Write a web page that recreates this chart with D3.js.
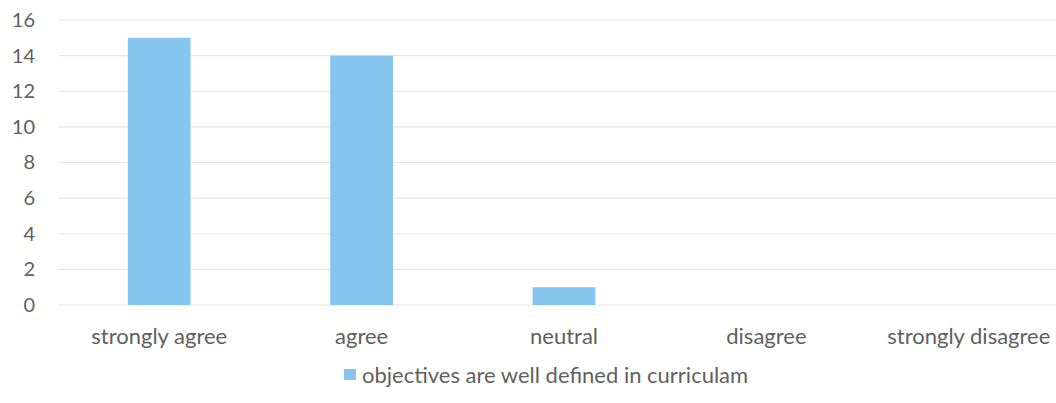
<!DOCTYPE html>
<html><head><meta charset="utf-8">
<script src="https://cdn.jsdelivr.net/npm/d3@7"></script>
<style>body{margin:0;background:#fff}svg{display:block}text{font-family:Lato,"Open Sans",sans-serif;fill:#5f5f5f}</style>
</head><body><div id="chart"></div>
<script>
const categories = ["strongly agree","agree","neutral","disagree","strongly disagree"];
const values = [15,14,1,0,0];
const yTicks = [0,2,4,6,8,10,12,14,16];
const seriesName = "objectives are well defined in curriculam";

const W=1056,H=403;
const svg=d3.select("#chart").append("svg").attr("width",W).attr("height",H);
const x=d3.scaleBand().domain(categories).range([58,1070]).paddingInner(0.69).paddingOuter(0.345);
const y=d3.scaleLinear().domain([0,16]).range([305,20]);

svg.append("g").selectAll("line").data(yTicks).join("line")
  .attr("x1",58).attr("x2",1070).attr("y1",d=>y(d)).attr("y2",d=>y(d))
  .attr("stroke","#e6e6e6").attr("stroke-width",1.2);

const yAxis=d3.axisLeft(y).tickValues(yTicks).tickSize(0).tickPadding(0);
const ga=svg.append("g").attr("transform","translate(35,0)").call(yAxis);
ga.select(".domain").remove();
ga.selectAll("text").style("font-size","20px").attr("fill","#5f5f5f");

svg.append("g").selectAll("rect").data(values).join("rect")
  .attr("x",(d,i)=>x(categories[i])).attr("width",x.bandwidth())
  .attr("y",d=>y(d)).attr("height",d=>y(0)-y(d)).attr("fill","#86c6ee");

const xAxis=d3.axisBottom(x).tickSize(0).tickPadding(0);
const gx=svg.append("g").attr("transform","translate(0,0)").call(xAxis);
gx.select(".domain").remove();
gx.selectAll("text").style("font-size","22px").attr("fill","#5f5f5f").attr("y",344).attr("dy",0);

const lg=svg.append("g");
lg.append("rect").attr("x",344).attr("y",369).attr("width",12).attr("height",11).attr("fill","#86c6ee");
lg.append("text").attr("x",362).attr("y",383).style("font-size","22px").text(seriesName);
</script></body></html>
